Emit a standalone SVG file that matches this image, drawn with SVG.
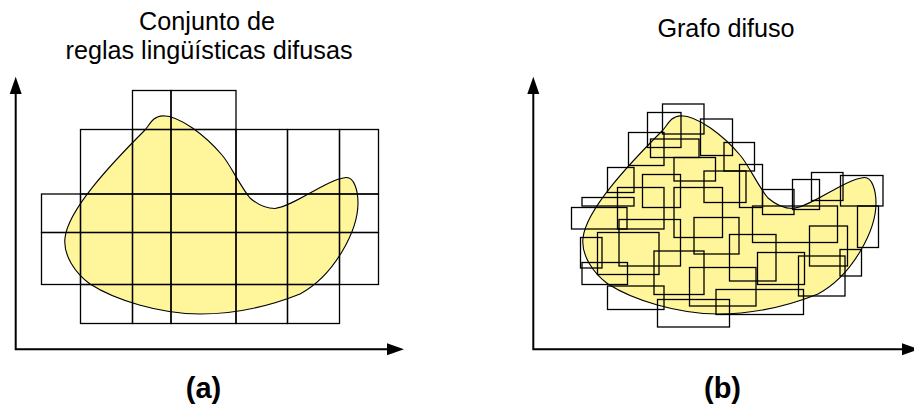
<svg xmlns="http://www.w3.org/2000/svg" width="914" height="408" viewBox="0 0 914 408">
<style>
.t{font-family:"Liberation Sans",Arial,sans-serif;font-size:25.2px;fill:#000;text-anchor:middle}
.lb{font-family:"Liberation Sans",Arial,sans-serif;font-size:29px;font-weight:bold;fill:#000;text-anchor:middle}
.blob{fill:#fff59a;stroke:#000;stroke-width:1.1}
.c rect{fill:none;stroke:#000;stroke-width:1.3}
.ax{stroke:#000;stroke-width:2;fill:none}
.ah{fill:#000}
</style>
<defs>
<path id="blob" d="M163,115.7 C180,116 205,135 222,155 C230,164 240,186 250,198 C258,205 266,208.5 275,208.5 C295,206 325,180 346,177.5 C354,177 358,190 358,203 C358,230 335,275 300,294 C270,306 235,314 200,314 C160,314 115,300 90,284 C75,273 63,255 65,238 C68,210 110,165 145,130 C150,124 153,116 163,115.7 Z"/>
</defs>
<g id="titles">
<text class="t" x="207" y="30">Conjunto de</text>
<text class="t" x="209" y="59">reglas lingüísticas difusas</text>
<text class="t" x="726" y="37">Grafo difuso</text>
<text class="lb" x="203.5" y="398">(a)</text>
<text class="lb" x="722.5" y="398">(b)</text>
</g>
<g id="panel-a">
<use href="#blob" class="blob"/>
<g class="c">
<rect x="132.5" y="90.5" width="38.5" height="39"/>
<rect x="171" y="90.5" width="65" height="39"/>
<rect x="80.5" y="129.5" width="52" height="64.5"/>
<rect x="132.5" y="129.5" width="38.5" height="64.5"/>
<rect x="171" y="129.5" width="65" height="64.5"/>
<rect x="236" y="129.5" width="51.5" height="64.5"/>
<rect x="287.5" y="129.5" width="52" height="64.5"/>
<rect x="339.5" y="129.5" width="39" height="64.5"/>
<rect x="41.5" y="194" width="39" height="38.5"/>
<rect x="80.5" y="194" width="52" height="38.5"/>
<rect x="132.5" y="194" width="38.5" height="38.5"/>
<rect x="171" y="194" width="65" height="38.5"/>
<rect x="236" y="194" width="51.5" height="38.5"/>
<rect x="287.5" y="194" width="52" height="38.5"/>
<rect x="339.5" y="194" width="39" height="38.5"/>
<rect x="41.5" y="232.5" width="39" height="52"/>
<rect x="80.5" y="232.5" width="52" height="52"/>
<rect x="132.5" y="232.5" width="38.5" height="52"/>
<rect x="171" y="232.5" width="65" height="52"/>
<rect x="236" y="232.5" width="51.5" height="52"/>
<rect x="287.5" y="232.5" width="52" height="52"/>
<rect x="339.5" y="232.5" width="39" height="52"/>
<rect x="80.5" y="284.5" width="52" height="39"/>
<rect x="132.5" y="284.5" width="38.5" height="39"/>
<rect x="171" y="284.5" width="65" height="39"/>
<rect x="236" y="284.5" width="51.5" height="39"/>
<rect x="287.5" y="284.5" width="52" height="39"/>
</g>
</g>
<g id="panel-b">
<use href="#blob" class="blob" transform="translate(518,0)"/>
<g class="c">
<rect x="662.5" y="104" width="41.5" height="30"/>
<rect x="647.5" y="112.5" width="33.5" height="35"/>
<rect x="700.5" y="119" width="32" height="36.5"/>
<rect x="628.5" y="132.5" width="35.5" height="33"/>
<rect x="650.5" y="139" width="48.5" height="18.5"/>
<rect x="724" y="142.5" width="30.5" height="28.5"/>
<rect x="674" y="157.5" width="41.5" height="23.5"/>
<rect x="739.5" y="164.5" width="23" height="43"/>
<rect x="607.5" y="167.5" width="26.5" height="25"/>
<rect x="704" y="171" width="42" height="31.5"/>
<rect x="642.5" y="174.5" width="38" height="33"/>
<rect x="674" y="187.5" width="48.5" height="50"/>
<rect x="617.5" y="187.5" width="46.5" height="41.5"/>
<rect x="582" y="197.5" width="52" height="8.5"/>
<rect x="571.5" y="207.5" width="55.5" height="21.5"/>
<rect x="762.5" y="189.5" width="31.5" height="25"/>
<rect x="792.5" y="179.5" width="27" height="30"/>
<rect x="811.5" y="172.5" width="31.5" height="28"/>
<rect x="840.5" y="175.5" width="42.5" height="30.5"/>
<rect x="752.5" y="206" width="85" height="36.5"/>
<rect x="857.5" y="206" width="21" height="41.5"/>
<rect x="619" y="219.5" width="61.5" height="46.5"/>
<rect x="694" y="217.5" width="45" height="36.5"/>
<rect x="597.5" y="232.5" width="61.5" height="42"/>
<rect x="809.5" y="226" width="38" height="40"/>
<rect x="729.5" y="234.5" width="46.5" height="46.5"/>
<rect x="580.5" y="237.5" width="21.5" height="30.5"/>
<rect x="654" y="251" width="50" height="43.5"/>
<rect x="757.5" y="252.5" width="47" height="32"/>
<rect x="840" y="249.5" width="21.5" height="26.5"/>
<rect x="798.5" y="256" width="46.5" height="40"/>
<rect x="582" y="262.5" width="45.5" height="22"/>
<rect x="689.5" y="267.5" width="66.5" height="38.5"/>
<rect x="607.5" y="286" width="56.5" height="23.5"/>
<rect x="716" y="289.5" width="87.5" height="25"/>
<rect x="657.5" y="299.5" width="72" height="27.5"/>
</g>
</g>
<g id="axes">
<path class="ax" d="M15.7,92 V349.3 H388"/>
<polygon class="ah" points="15.7,76.7 9.7,94 21.7,94"/>
<polygon class="ah" points="404,349.3 387,343.3 387,355.3"/>
<path class="ax" d="M533.3,92 V349.3 H905"/>
<polygon class="ah" points="533.3,76.7 527.3,94 539.3,94"/>
<polygon class="ah" points="919,349.3 902,343.3 902,355.3"/>
</g>
</svg>
